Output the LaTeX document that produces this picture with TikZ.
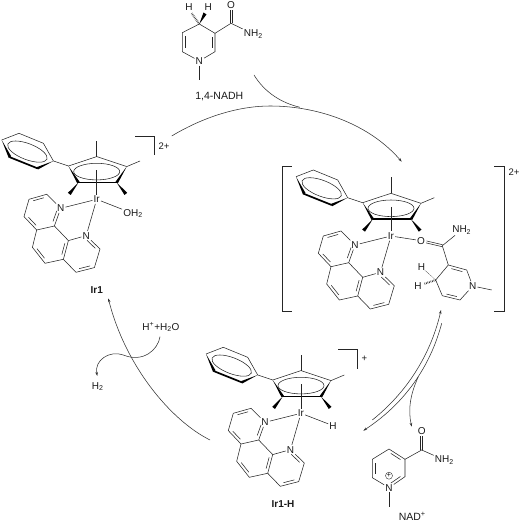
\documentclass[tikz,border=0pt]{standalone}
\usepackage{fontspec}
\setmainfont{Liberation Sans}
\usetikzlibrary{arrows.meta,calc}
\tikzset{
    >={Stealth[length=4pt,width=2.6pt]},
    bond/.style={line width=0.55pt, draw=black!85},
    boldbond/.style={line width=1.7pt, draw=black, line cap=round},
    wedge/.style={fill=black, draw=none},
    hashbond/.style={line width=2pt, draw=black!85, dash pattern=on .6pt off 1pt},
    curly/.style={line width=0.55pt, draw=black!80},
    atom/.style={font=\fontsize{10}{10}\selectfont, inner sep=1pt, text=black!90},
    textlabel/.style={font=\fontsize{10.5}{10}\selectfont, inner sep=1pt, text=black!90},
    chargelabel/.style={font=\fontsize{9.5}{10}\selectfont, inner sep=1pt, text=black!90},
    boldlabel/.style={font=\fontsize{10}{10}\selectfont\bfseries, inner sep=1pt, text=black!90}
}
% inner line of a ring double bond: end, end, ring centre
\newcommand{\ringdbl}[3]{\draw[bond] ($(#1)!.14!(#2)!.17!(#3)$) -- ($(#2)!.14!(#1)!.17!(#3)$);}
% C=O drawn from the carbon to the oxygen node
\newcommand{\exodbl}[2]{
    \draw[bond, shorten >=5.5pt] ($(#1)!1pt!90:(#2)$) -- ($(#2)!1pt!-90:(#1)$);
    \draw[bond, shorten >=5.5pt] ($(#1)!1pt!-90:(#2)$) -- ($(#2)!1pt!90:(#1)$);
}

% phenyl-Cp unit with phenanthroline, origin on Ir, #1 prefixes the names
\newcommand{\cpunit}[1]{
    \node[atom] (#1ir) at (0,0) {Ir};
    % phenyl ring
    \coordinate (#1pa) at (-95,-59.3);
    \coordinate (#1pb) at (-77.7,-66);
    \coordinate (#1pc) at (-53.3,-56);
    \coordinate (#1pd) at (-43.3,-38.3);
    \coordinate (#1pe) at (-59.3,-31);
    \coordinate (#1pf) at (-86.7,-42);
    \draw[bond] (#1pa) -- (#1pb) -- (#1pc) -- (#1pd);
    \fill[wedge] (#1pa) -- ($(#1pf)+(-1.2,.8)$) -- ($(#1pf)+(1.2,-1)$) -- cycle;
    \draw[boldbond] (#1pf) -- (#1pe);
    \fill[wedge] (#1pd) -- ($(#1pe)+(-.5,-1.2)$) -- ($(#1pe)+(.5,1.2)$) -- cycle;
    \draw[bond] (-69.3,-47.7) ellipse [x radius=21pt, y radius=8pt, rotate=-21];
    % Cp ring
    \coordinate (#1cl) at (-28.3,-33.3);
    \coordinate (#1ct) at (0,-42.7);
    \coordinate (#1cr) at (30,-32.7);
    \coordinate (#1cs) at (20,-16.7);
    \coordinate (#1cb) at (-18.3,-16.7);
    \draw[bond] (#1pd) -- (#1cl) -- (#1ct) -- (#1cr);
    \fill[wedge] (#1cl) -- ($(#1cb)+(-1.2,.6)$) -- ($(#1cb)+(1.2,-.8)$) -- cycle;
    \draw[boldbond] (#1cb) -- (#1cs);
    \fill[wedge] (#1cr) -- ($(#1cs)+(-1.2,-.8)$) -- ($(#1cs)+(1.2,.6)$) -- cycle;
    \draw[bond] (0,-27.7) ellipse [x radius=23pt, y radius=8.3pt];
    % methyls
    \draw[bond] (#1ct) -- (0,-58.7);
    \draw[bond] (#1cr) -- (43.3,-38.3);
    \fill[wedge] (#1cb) -- (-28.8,-6.5) -- (-26,-4.3) -- cycle;
    \fill[wedge] (#1cs) -- (30.5,-6.5) -- (27.8,-4.3) -- cycle;
    \draw[bond] (0,-29) -- (#1ir);
    % phenanthroline
    \node[atom] (#1na) at (-36,9) {N};
    \node[atom] (#1nb) at (-10.5,36.3) {N};
    \coordinate (#1a) at (-50,-5);
    \coordinate (#1b) at (-67.7,0);
    \coordinate (#1c) at (-72.7,17.3);
    \coordinate (#1d) at (-60,30.7);
    \coordinate (#1e) at (-42.3,26.7);
    \coordinate (#1f) at (-28.3,41.3);
    \coordinate (#1g) at (-33.3,60);
    \coordinate (#1h) at (-51.7,64);
    \coordinate (#1i) at (-64.3,48);
    \coordinate (#1j) at (3.3,49.7);
    \coordinate (#1k) at (-2.3,68.3);
    \coordinate (#1l) at (-20.7,73);
    \coordinate (#1rx) at (-55,12);
    \coordinate (#1ry) at (-46,45);
    \coordinate (#1rz) at (-15,55);
    \draw[bond] (#1na) -- (#1a) -- (#1b) -- (#1c) -- (#1d) -- (#1e) -- (#1na);
    \draw[bond] (#1e) -- (#1f) -- (#1g) -- (#1h) -- (#1i) -- (#1d);
    \draw[bond] (#1f) -- (#1nb) -- (#1j) -- (#1k) -- (#1l) -- (#1g);
    \ringdbl{#1a}{#1b}{#1rx}
    \ringdbl{#1c}{#1d}{#1rx}
    \ringdbl{#1e}{#1na}{#1rx}
    \ringdbl{#1f}{#1g}{#1ry}
    \ringdbl{#1h}{#1i}{#1ry}
    \ringdbl{#1nb}{#1j}{#1rz}
    \ringdbl{#1k}{#1l}{#1rz}
    \draw[bond] (#1na) -- (#1ir);
    \draw[bond] (#1nb) -- (#1ir);
}

\begin{document}
\begin{tikzpicture}[x=1pt, y=-1pt]
    \useasboundingbox (0,0) rectangle (522,521);

    % =========================================================================
    % 1,4-NADH
    % =========================================================================
    \coordinate (hc4) at (199.3,24);
    \coordinate (hc3) at (215,33.3);
    \coordinate (hc2) at (215,51.7);
    \node[atom] (hn) at (199.3,61) {N};
    \coordinate (hc6) at (182.3,51.7);
    \coordinate (hc5) at (182.3,32.7);
    \coordinate (hcc) at (199,42);
    \coordinate (hco) at (231,23.3);
    \coordinate (hme) at (199.3,80);
    \node[atom] (ho) at (231,5) {O};
    \node[atom] (hnh) at (253.3,34) {NH\textsubscript{2}};
    \node[atom] (hha) at (189,7.3) {H};
    \node[atom] (hhb) at (208.3,7.3) {H};
    \draw[bond] (hc4) -- (hc3) -- (hc2) -- (hn) -- (hc6) -- (hc5) -- (hc4);
    \ringdbl{hc3}{hc2}{hcc}
    \ringdbl{hc6}{hc5}{hcc}
    \draw[bond] (hn) -- (hme);
    \draw[bond] (hc3) -- (hco) -- (hnh);
    \exodbl{hco}{ho}
    \fill[wedge] (hc4) -- (203.5,12.5) -- (206.5,14.5) -- cycle;
    \draw[hashbond] (hc4) -- (191.7,13.3);
    \node[textlabel] (hlabel) at (219.3,96.7) {1,4-NADH};

    % =========================================================================
    % Ir1 (aqua complex)
    % =========================================================================
    \begin{scope}[shift={(96.7,199.3)}]
        \cpunit{aq}
    \end{scope}
    \node[atom] (aqo) at (133,213.5) {OH\textsubscript{2}};
    \draw[bond] (aqir) -- (aqo);
    \draw[bond] (135,136) -- (154,136) -- (154,155);
    \node[chargelabel] (aqch) at (164,145.7) {2+};
    \node[boldlabel] (aqlabel) at (96.7,290) {Ir1};

    % =========================================================================
    % NADH adduct in brackets
    % =========================================================================
    \begin{scope}[shift={(391,236)}]
        \cpunit{ad}
    \end{scope}
    \node[atom] (ado) at (421,240.7) {O};
    \coordinate (adcc) at (442.3,245.7);
    \node[atom] (adnh) at (461.7,230) {NH\textsubscript{2}};
    \coordinate (adc3) at (448.3,265);
    \coordinate (adc2) at (466.7,270);
    \node[atom] (adn) at (472.7,286) {N};
    \coordinate (adc6) at (460,300);
    \coordinate (adc5) at (442.3,295.7);
    \coordinate (adc4) at (435.7,280);
    \coordinate (adrc) at (454,283);
    \coordinate (adme) at (491.7,290);
    \node[atom] (adha) at (421.5,267) {H};
    \node[atom] (adhb) at (418,286) {H};
    \draw[bond] (adir) -- (ado);
    \exodbl{adcc}{ado}
    \draw[bond] (adcc) -- (adnh);
    \draw[bond] (adcc) -- (adc3) -- (adc2) -- (adn) -- (adc6) -- (adc5) -- (adc4) -- (adc3);
    \ringdbl{adc3}{adc2}{adrc}
    \ringdbl{adc6}{adc5}{adrc}
    \draw[bond] (adn) -- (adme);
    \fill[wedge] (adc4) -- (424.5,270) -- (427.5,272.5) -- cycle;
    \draw[hashbond] (adc4) -- (424,284);
    \draw[bond] (291.7,166.7) -- (282,166.7) -- (282,311.7) -- (291.7,311.7);
    \draw[bond] (494,166.7) -- (504,166.7) -- (504,311.7) -- (494,311.7);
    \node[chargelabel] (adch) at (514,171.7) {2+};

    % =========================================================================
    % Ir1-H
    % =========================================================================
    \begin{scope}[shift={(301,413.3)}]
        \cpunit{hy}
    \end{scope}
    \node[atom] (hyh) at (333,425.7) {H};
    \draw[bond] (hyir) -- (hyh);
    \draw[bond] (338.3,349.3) -- (357.7,349.3) -- (357.7,369);
    \node[chargelabel] (hych) at (364.3,359) {+};
    \node[boldlabel] (hylabel) at (283,504) {Ir1-H};

    % =========================================================================
    % NAD+
    % =========================================================================
    \coordinate (oxc4) at (389,449);
    \coordinate (oxc3) at (405,459.3);
    \coordinate (oxc2) at (405,476.7);
    \node[atom] (oxn) at (389,487.7) {N};
    \coordinate (oxc6) at (372.3,477.7);
    \coordinate (oxc5) at (372.3,459.3);
    \coordinate (oxrc) at (389,468);
    \coordinate (oxco) at (421.7,450);
    \coordinate (oxme) at (389,506.7);
    \node[atom] (oxo) at (421.7,430.7) {O};
    \node[atom] (oxnh) at (444.3,460) {NH\textsubscript{2}};
    \draw[bond] (oxc4) -- (oxc3) -- (oxc2) -- (oxn) -- (oxc6) -- (oxc5) -- (oxc4);
    \ringdbl{oxc4}{oxc3}{oxrc}
    \ringdbl{oxc2}{oxn}{oxrc}
    \ringdbl{oxc6}{oxc5}{oxrc}
    \draw[bond] (oxn) -- (oxme);
    \draw[bond] (oxc3) -- (oxco) -- (oxnh);
    \exodbl{oxco}{oxo}
    \node[circle, draw=black!85, line width=0.4pt, inner sep=0pt, minimum size=7pt, font=\fontsize{7}{7}\selectfont] (oxplus) at (389,475.7) {+};
    \node[textlabel] (oxlabel) at (412.3,516) {NAD\textsuperscript{+}};

    % =========================================================================
    % Small species by the cycle
    % =========================================================================
    \node[atom] (water) at (161,327.3) {H\textsuperscript{+}+H\textsubscript{2}O};
    \node[atom] (dihyd) at (97.7,386.7) {H\textsubscript{2}};

    % =========================================================================
    % Cycle arrows
    % =========================================================================
    \coordinate (topa) at (171.7,136);
    \coordinate (topb) at (401.7,161.7);
    \coordinate (topm) at (270,106);
    \coordinate (nadin) at (254,75);
    \coordinate (nadmeet) at (300,107.3);
    \coordinate (lefta) at (210,440);
    \coordinate (leftb) at (108.3,298.3);
    \coordinate (h2a) at (160,336.7);
    \coordinate (h2m) at (123.3,355);
    \coordinate (h2b) at (97.3,376);
    \coordinate (upa) at (372.3,420);
    \coordinate (upb) at (441,310);
    \coordinate (dna) at (441.7,323.3);
    \coordinate (dnb) at (363.3,430.7);
    \coordinate (oxa) at (418.3,376.7);
    \coordinate (oxb) at (411.7,426.7);

    \draw[curly,->] (topa) .. controls (205,116) and (240,106) .. (topm)
        .. controls (320,106) and (370,125) .. (topb);
    \draw[curly] (nadin) .. controls (265,93) and (282,103) .. (nadmeet);
    \draw[curly,->] (lefta) .. controls (170,420) and (125,365) .. (leftb);
    \draw[curly,->] (h2a) .. controls (158,350) and (143,363) .. (h2m)
        .. controls (110,350) and (94,360) .. (h2b);
    \draw[curly,->] (upa) .. controls (410,390) and (432,350) .. (upb);
    \draw[curly,->] (dna) .. controls (432,360) and (410,400) .. (dnb);
    \draw[curly,->] (oxa) .. controls (410,395) and (408,410) .. (oxb);
\end{tikzpicture}
\end{document}
